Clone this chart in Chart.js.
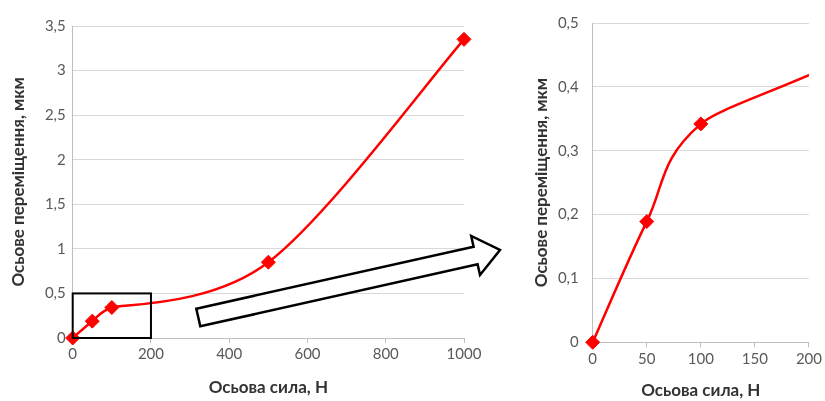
<!DOCTYPE html>
<html>
<head>
<meta charset="utf-8">
<script src="https://cdn.jsdelivr.net/npm/chart.js@4.4.1/dist/chart.umd.min.js"></script>
<style>
  html, body { margin: 0; padding: 0; background: #fff; }
  #wrap { position: relative; width: 825px; height: 401px; overflow: hidden; }
  #wrap canvas, #wrap svg { position: absolute; top: 0; }
</style>
</head>
<body>
<div id="wrap">
  <canvas id="mainChart" width="500" height="401" style="left:0"></canvas>
  <canvas id="zoomChart" width="325" height="401" style="left:500px"></canvas>
  <svg width="825" height="401" style="left:0">
    <polygon points="196.3,308.7 473.6,246.7 471.2,236 500,250 480,275 477.6,264.3 200.3,326.3"
             fill="#fff" stroke="#000" stroke-width="2.5" stroke-linejoin="miter"/>
  </svg>
</div>
<script>
(function () {
    // axial force (N) vs axial displacement (um); the right chart shows the same data up to 200 N
    const forceN = [0, 50, 100, 500, 1000];
    const displacement = [0, 0.189, 0.342, 0.85, 3.35];

    const zoomBoxX = [0, 200];
    const zoomBoxY = [0, 0.5];

    const mainXTicks = ['0', '200', '400', '600', '800', '1000'];
    const mainYTicks = ['0', '0,5', '1', '1,5', '2', '2,5', '3', '3,5'];
    const zoomXTicks = ['0', '50', '100', '150', '200'];
    const zoomYTicks = ['0', '0,1', '0,2', '0,3', '0,4', '0,5'];

    const xTitle = 'Осьова сила, Н';
    const yTitle = 'Осьове переміщення, мкм';

    const red = 'rgb(255, 0, 0)';
    const tickFont = { family: 'Lato', size: 15 };
    const titleFont = { family: 'Lato', size: 17, weight: 'bold' };

    function toPoints(xs, ys) {
        return xs.map((x, i) => ({ x: x, y: ys[i] }));
    }

    // Excel-like smoothing: tangent = (next - prev) * f, f = 1/6,
    // shortened so an arm never exceeds half of the shorter neighbouring segment
    const smoothPlugin = {
        id: 'excelSmooth',
        beforeDatasetDraw(chart, args) {
            const meta = args.meta;
            const line = meta.dataset;
            if (!line) return;
            line.updateControlPoints(chart.chartArea, meta.iScale.axis);
            const pts = meta.data;
            const dist = (a, b) => Math.hypot(a.x - b.x, a.y - b.y);
            pts.forEach((pt, i) => {
                const prev = pts[i - 1] || pt;
                const next = pts[i + 1] || pt;
                const d02 = dist(prev, next);
                let f = 1 / 6;
                if (d02 > 0) {
                    const dShort = Math.min(dist(prev, pt) || Infinity, dist(pt, next) || Infinity);
                    f = Math.min(f, dShort / (2 * d02));
                }
                const dx = (next.x - prev.x) * f;
                const dy = (next.y - prev.y) * f;
                pt.cp1x = pt.x - dx;
                pt.cp1y = pt.y - dy;
                pt.cp2x = pt.x + dx;
                pt.cp2y = pt.y + dy;
            });
        },
    };

    function makeOptions(cfg) {
        return {
            responsive: false,
            animation: false,
            events: [],
            layout: { padding: cfg.padding },
            plugins: { legend: { display: false }, tooltip: { enabled: false } },
            scales: {
                x: {
                    type: 'linear',
                    min: cfg.xMin, max: cfg.xMax,
                    ticks: {
                        stepSize: cfg.xStep, color: '#595959', font: tickFont, padding: cfg.xTickPad,
                        maxRotation: 0,
                        callback: (v, i) => cfg.xTicks[i],
                    },
                    grid: { drawOnChartArea: false, drawTicks: true, tickLength: 5, color: '#bfbfbf' },
                    border: { color: '#bfbfbf' },
                    title: { display: true, text: xTitle, color: '#333', font: titleFont, padding: { top: 0, bottom: cfg.xTitlePad } },
                    afterFit: (s) => { s.height = cfg.xHeight; },
                },
                y: {
                    type: 'linear',
                    min: cfg.yMin, max: cfg.yMax,
                    ticks: {
                        stepSize: cfg.yStep, color: '#595959', font: tickFont, padding: cfg.yTickPad,
                        callback: (v, i) => cfg.yTicks[i],
                    },
                    grid: { color: '#d9d9d9', drawTicks: false },
                    border: { color: '#bfbfbf' },
                    title: { display: true, text: yTitle, color: '#333', font: titleFont, padding: { top: cfg.yTitlePad, bottom: 0 } },
                    afterFit: (s) => { s.width = cfg.yWidth; },
                },
            },
        };
    }

    function makeDataset(clip) {
        return {
            data: toPoints(forceN, displacement),
            showLine: true,
            borderColor: red,
            borderWidth: 2.5,
            tension: 0.4,
            clip: clip,
            pointStyle: 'rectRot',
            pointRadius: 7,
            pointBackgroundColor: red,
            pointBorderColor: red,
            pointBorderWidth: 1,
        };
    }

    // black frame on the main chart marking the zoomed range
    const zoomBoxPlugin = {
        id: 'zoomBox',
        afterDraw(chart) {
            const { ctx, scales } = chart;
            const x0 = scales.x.getPixelForValue(zoomBoxX[0]);
            const x1 = scales.x.getPixelForValue(zoomBoxX[1]);
            const y0 = scales.y.getPixelForValue(zoomBoxY[0]);
            const y1 = scales.y.getPixelForValue(zoomBoxY[1]);
            ctx.save();
            ctx.strokeStyle = '#000';
            ctx.lineWidth = 2;
            ctx.strokeRect(x0, y1, x1 - x0, y0 - y1);
            ctx.restore();
        },
    };

    new Chart(document.getElementById('mainChart'), {
        type: 'scatter',
        data: { datasets: [makeDataset({ left: 10, bottom: 10, top: 10, right: 10 })] },
        options: makeOptions({
            padding: { left: 4, right: 36, top: 26, bottom: 0 },
            xMin: 0, xMax: 1000, xStep: 200, xTicks: mainXTicks,
            yMin: 0, yMax: 3.5, yStep: 0.5, yTicks: mainYTicks,
            xTickPad: 2, yTickPad: 7, xTitlePad: 3, yTitlePad: 4,
            xHeight: 63, yWidth: 68.7,
        }),
        plugins: [smoothPlugin, zoomBoxPlugin],
    });

    new Chart(document.getElementById('zoomChart'), {
        type: 'scatter',
        data: { datasets: [makeDataset({ left: 10, bottom: 10, top: 0, right: 0 })] },
        options: makeOptions({
            padding: { left: 25, right: 15, top: 18, bottom: 0 },
            xMin: 0, xMax: zoomBoxX[1], xStep: 50, xTicks: zoomXTicks,
            yMin: 0, yMax: zoomBoxY[1], yStep: 0.1, yTicks: zoomYTicks,
            xTickPad: 3, yTickPad: 14, xTitlePad: 0, yTitlePad: 6.5,
            xHeight: 58.7, yWidth: 67.7,
        }),
        plugins: [smoothPlugin],
    });
})();
</script>
</body>
</html>
